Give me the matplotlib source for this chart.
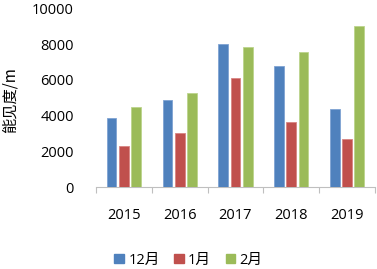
import matplotlib
matplotlib.use("Agg")
import matplotlib.pyplot as plt
import numpy as np
from matplotlib.patches import Patch

years = ["2015", "2016", "2017", "2018", "2019"]
series_names = ["12月", "1月", "2月"]
dec = [3850, 4870, 8000, 6800, 4380]
jan = [2300, 3020, 6080, 3660, 2670]
feb = [4460, 5280, 7870, 7540, 9030]
yticks = [0, 2000, 4000, 6000, 8000, 10000]

colors = ["#4F81BD", "#C0504D", "#9BBB59"]
edges = ["#7FA3D3", "#D88583", "#BCD48C"]

plt.rcParams['font.family'] = ['Open Sans', 'Noto Sans CJK SC', 'DejaVu Sans']

fig = plt.figure(figsize=(3.77, 2.69), dpi=100)
ax = fig.add_axes([0.2546, 0.3048, 0.74, 0.6635])

x = np.arange(len(years))
offsets = [-0.22, 0.0, 0.22]
width = 0.175
for vals, off, c, e in zip([dec, jan, feb], offsets, colors, edges):
    ax.bar(x + off, vals, width=width, color=c, edgecolor=e, linewidth=0.6, zorder=3)

ax.set_xlim(-0.5, len(years) - 0.5)
ax.set_ylim(0, 10000)
ax.set_yticks(yticks)
ax.set_yticklabels([str(v) for v in yticks], fontsize=10.5, color="#000000")
ax.tick_params(axis='y', length=0, pad=16)

ax.set_xticks(x)
ax.set_xticklabels(years, fontsize=10.5)
ax.set_xticks(np.arange(len(years) + 1) - 0.5, minor=True)
ax.tick_params(axis='x', which='major', length=0, pad=15)
ax.tick_params(axis='x', which='minor', length=4, color="#BFBFBF", width=0.8)

for s in ['top', 'right', 'left']:
    ax.spines[s].set_visible(False)
ax.spines['bottom'].set_color("#BFBFBF")
ax.spines['bottom'].set_linewidth(0.8)

fig.text(0.027, 0.628, "能见度/m", rotation=90, ha='center', va='center',
         fontsize=11, family=['Noto Sans CJK SC', 'DejaVu Sans'])

handles = [Patch(facecolor=c, edgecolor=c) for c in colors]
fig.legend(handles, series_names, loc='center', bbox_to_anchor=(0.5, 0.033),
           ncol=3, frameon=False, handlelength=0.65, handleheight=0.65,
           handletextpad=0.3, columnspacing=1.0,
           prop={'family': ['Open Sans', 'Noto Sans CJK SC', 'DejaVu Sans'], 'size': 10.5})

fig.savefig("out.png", dpi=100)
